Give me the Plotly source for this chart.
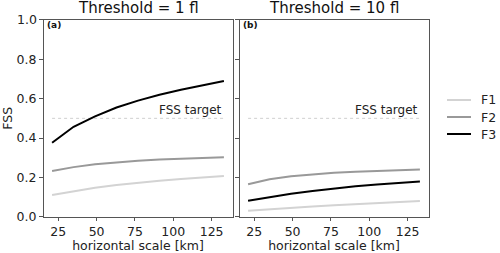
import plotly.graph_objects as go

scales_km = [21, 35, 49, 63, 77, 91, 105, 119, 133]
series_names = ["F1", "F2", "F3"]
fss_1fl = {
    "F1": [0.110, 0.130, 0.147, 0.161, 0.173, 0.183, 0.192, 0.200, 0.207],
    "F2": [0.232, 0.252, 0.266, 0.277, 0.285, 0.291, 0.295, 0.299, 0.302],
    "F3": [0.376, 0.457, 0.510, 0.555, 0.590, 0.620, 0.645, 0.667, 0.690],
}
fss_10fl = {
    "F1": [0.030, 0.038, 0.045, 0.052, 0.058, 0.064, 0.069, 0.075, 0.080],
    "F2": [0.165, 0.190, 0.205, 0.216, 0.224, 0.229, 0.233, 0.237, 0.240],
    "F3": [0.081, 0.100, 0.117, 0.131, 0.144, 0.155, 0.164, 0.172, 0.179],
}
fss_target = 0.5
titles = ["Threshold = 1 fl", "Threshold = 10 fl"]
panel_labels = ["(a)", "(b)"]
colors = {"F1": "#d3d3d3", "F2": "#999999", "F3": "#000000"}
xt = [25, 50, 75, 100, 125]
yt = [0, 0.2, 0.4, 0.6, 0.8, 1.0]
yt_labels = ["0.0", "0.2", "0.4", "0.6", "0.8", "1.0"]

FONT = "DejaVu Sans"
TXT = "#222"
W, H = 500, 253
fig = go.Figure()

for i, data in enumerate([fss_1fl, fss_10fl]):
    xa = "x" if i == 0 else "x2"
    ya = "y" if i == 0 else "y2"
    fig.add_trace(go.Scatter(x=[scales_km[0], scales_km[-1]], y=[fss_target, fss_target],
                             mode="lines", line=dict(color="#cfcfcf", width=1, dash="dot"),
                             showlegend=False, hoverinfo="skip", xaxis=xa, yaxis=ya))
    for name in series_names:
        fig.add_trace(go.Scatter(x=scales_km, y=data[name], mode="lines", name=name,
                                 line=dict(color=colors[name], width=2),
                                 showlegend=False, xaxis=xa, yaxis=ya))
    fig.add_annotation(x=scales_km[-1], y=fss_target, xref=xa, yref=ya, text="FSS target",
                       showarrow=False, xanchor="right", yanchor="bottom", yshift=-1,
                       font=dict(family=FONT, size=12, color=TXT))

axis_common = dict(showline=True, linecolor="#555", linewidth=1, mirror=True,
                   ticks="outside", ticklen=3.5, tickcolor="#555", showgrid=False,
                   zeroline=False, automargin=False,
                   tickfont=dict(family=FONT, size=12.5, color=TXT))
dom_a = [0.087, 0.465]
dom_b = [0.479, 0.857]
ydom = [0.1435, 0.921]

fig.update_layout(
    width=W, height=H, margin=dict(l=0, r=0, t=0, b=0),
    plot_bgcolor="white", paper_bgcolor="white", showlegend=False,
    font=dict(family=FONT, color=TXT),
    xaxis=dict(domain=dom_a, range=[15.4, 138.6], tickvals=xt,
               title=dict(text="horizontal scale [km]", font=dict(family=FONT, size=12.5, color=TXT), standoff=2),
               anchor="y", **axis_common),
    xaxis2=dict(domain=dom_b, range=[15.4, 138.6], tickvals=xt,
                title=dict(text="horizontal scale [km]", font=dict(family=FONT, size=12.5, color=TXT), standoff=2),
                anchor="y2", **axis_common),
    # top label (1.0) is drawn as a paper-referenced annotation below, since plotly hides it at the domain edge
    yaxis=dict(domain=ydom, range=[0, 1], tickvals=yt, ticktext=yt_labels[:-1] + [""],
               title=dict(text="FSS", font=dict(family=FONT, size=12.5, color=TXT), standoff=4),
               anchor="x", **axis_common),
    yaxis2=dict(domain=ydom, range=[0, 1], tickvals=yt, showticklabels=False,
                anchor="x2", **axis_common),
)

fig.add_annotation(x=dom_a[0], y=ydom[1], xref="paper", yref="paper", text=yt_labels[-1],
                   showarrow=False, xanchor="right", yanchor="middle", xshift=-5,
                   font=dict(family=FONT, size=12.5, color=TXT))

for i, (t, lab) in enumerate(zip(titles, panel_labels)):
    dom = dom_a if i == 0 else dom_b
    fig.add_annotation(x=(dom[0] + dom[1]) / 2, y=1.0, xref="paper", yref="paper", text=t,
                       showarrow=False, xanchor="center", yanchor="top", yshift=3,
                       font=dict(family=FONT, size=15, color="#111"))
    fig.add_annotation(x=dom[0], y=ydom[1], xref="paper", yref="paper", text="<b>" + lab + "</b>",
                       showarrow=False, xanchor="left", yanchor="top", xshift=1, yshift=2,
                       font=dict(family=FONT, size=9, color="#111"))

# legend (manual, frameless)
leg_y_px = [100, 117, 134]
for name, ypx in zip(series_names, leg_y_px):
    yp = 1 - ypx / H
    fig.add_shape(type="line", xref="paper", yref="paper", x0=447 / W, x1=471 / W, y0=yp, y1=yp,
                  line=dict(color=colors[name], width=2))
    fig.add_annotation(x=479 / W, y=yp, xref="paper", yref="paper", text=name, showarrow=False,
                       xanchor="left", yanchor="middle", font=dict(family=FONT, size=12.5, color=TXT))

fig.write_html("out.html", config={"displayModeBar": False},
               post_script="document.body.style.margin='0px';document.body.style.overflow='hidden';")
